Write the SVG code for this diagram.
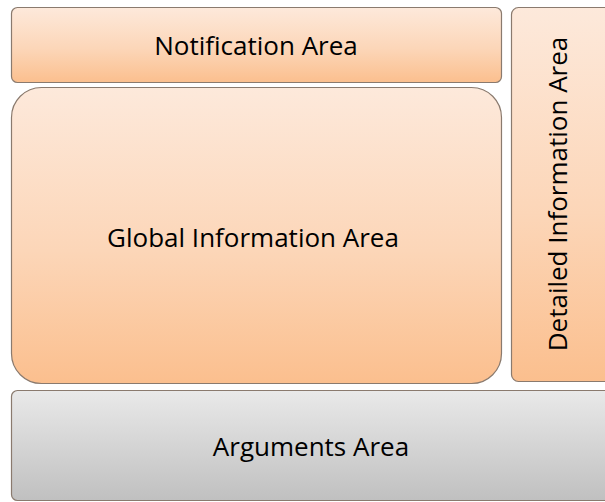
<svg xmlns="http://www.w3.org/2000/svg" width="605" height="502" viewBox="0 0 605 502">
  <style>
    .box { stroke: #8a7a6e; stroke-width: 1.2; }
    .lbl { font-family: "Open Sans", "Noto Sans", sans-serif; font-size: 26px; fill: #000; text-anchor: middle; dominant-baseline: central; }
  </style>
  <defs>
    <linearGradient id="orange" x1="0" y1="0" x2="0" y2="1">
      <stop offset="0" stop-color="#fde9db"/>
      <stop offset="0.55" stop-color="#fcd6b8"/>
      <stop offset="1" stop-color="#fbbf8e"/>
    </linearGradient>
    <linearGradient id="gray" x1="0" y1="0" x2="0" y2="1">
      <stop offset="0" stop-color="#e9e9e9"/>
      <stop offset="1" stop-color="#c0c0c0"/>
    </linearGradient>
  </defs>
  <rect width="605" height="502" fill="#ffffff"/>
  <g id="notification">
    <rect class="box" x="11.5" y="7.5" width="490" height="75" rx="6" fill="url(#orange)"/>
    <text class="lbl" x="256" y="45">Notification Area</text>
  </g>
  <g id="global">
    <rect class="box" x="11.5" y="87.5" width="490" height="296" rx="30" fill="url(#orange)"/>
    <text class="lbl" x="253" y="237">Global Information Area</text>
  </g>
  <g id="detailed">
    <rect class="box" x="511.5" y="7.5" width="110" height="374" rx="7" fill="url(#orange)"/>
    <text class="lbl" transform="translate(557 194) rotate(-90)">Detailed Information Area</text>
  </g>
  <g id="arguments">
    <rect class="box" stroke="#333" x="11.5" y="390.5" width="610" height="110" rx="6" fill="url(#gray)"/>
    <text class="lbl" x="311" y="446">Arguments Area</text>
  </g>
  <g id="connectors"/>
</svg>
